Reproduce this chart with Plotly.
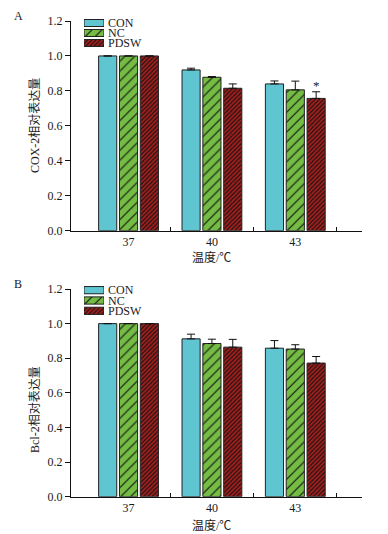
import plotly.graph_objects as go

# ---------------- data ----------------
temperatures = ["37", "40", "43"]
series_names = ["CON", "NC", "PDSW"]

cox2_con = [1.00, 0.920, 0.840]
cox2_nc = [1.00, 0.878, 0.806]
cox2_pdsw = [1.00, 0.815, 0.757]
cox2_con_err = [0.0, 0.010, 0.017]
cox2_nc_err = [0.0, 0.004, 0.050]
cox2_pdsw_err = [0.0, 0.025, 0.038]

bcl2_con = [1.00, 0.912, 0.858]
bcl2_nc = [1.00, 0.885, 0.853]
bcl2_pdsw = [1.00, 0.864, 0.772]
bcl2_con_err = [0.0, 0.027, 0.044]
bcl2_nc_err = [0.0, 0.025, 0.025]
bcl2_pdsw_err = [0.0, 0.045, 0.038]

y_tick_values = [0.0, 0.2, 0.4, 0.6, 0.8, 1.0, 1.2]

# ---------------- styles ----------------
PAGE_W, PAGE_H = 388, 534
OFF = 8  # default page body margin
W, H = PAGE_W - OFF, PAGE_H - OFF
FONT = "Liberation Serif, Times New Roman, Noto Sans CJK SC, serif"
TXT = "#1a1a1a"
colors = {"CON": "#5EC5D1", "NC": "#74BC44", "PDSW": "#A21F1D"}
patterns = {
    "CON": dict(shape="", fgcolor="black", bgcolor=colors["CON"]),
    "NC": dict(shape="/", fgcolor="#111111", bgcolor=colors["NC"], size=7, solidity=0.16),
    "PDSW": dict(shape="/", fgcolor="#111111", bgcolor=colors["PDSW"], size=3, solidity=0.35),
}


def px_x(p):
    return (p - OFF) / W


def px_y(p):
    return 1 - (p - OFF) / H


x_pos = list(range(len(temperatures)))

fig = go.Figure()

panels = [
    dict(vals=[cox2_con, cox2_nc, cox2_pdsw], errs=[cox2_con_err, cox2_nc_err, cox2_pdsw_err],
         xa="x", ya="y"),
    dict(vals=[bcl2_con, bcl2_nc, bcl2_pdsw], errs=[bcl2_con_err, bcl2_nc_err, bcl2_pdsw_err],
         xa="x2", ya="y2"),
]

for pnl in panels:
    for name, v, e in zip(series_names, pnl["vals"], pnl["errs"]):
        fig.add_trace(go.Bar(
            x=x_pos, y=v, name=name, showlegend=False,
            xaxis=pnl["xa"], yaxis=pnl["ya"],
            marker=dict(color=colors[name], line=dict(color="#222222", width=1),
                        pattern=patterns[name]),
            error_y=dict(type="data", symmetric=False, array=e, arrayminus=[0] * len(e),
                         color="#111111", thickness=1, width=4),
        ))

# legend swatches (as horizontal bars on small helper axes)
legend_boxes = [(84, 104, 18, 48, "x3", "y3"), (84, 104, 285, 316, "x4", "y4")]
for (x0, x1, y0, y1, xa, ya) in legend_boxes:
    for name in series_names:
        fig.add_trace(go.Bar(
            x=[1], y=[name], orientation="h", width=0.7, offset=-0.35,
            xaxis=xa, yaxis=ya, showlegend=False, hoverinfo="skip",
            marker=dict(color=colors[name], line=dict(color="#222222", width=1),
                        pattern=patterns[name]),
        ))

xrange = [-0.69, 2.8]
common_x = dict(range=xrange, tickmode="array", tickvals=x_pos, ticktext=temperatures,
                ticks="", showline=True, linecolor="#111111", linewidth=1,
                showgrid=False, zeroline=False, fixedrange=True, automargin=False,
                tickfont=dict(family=FONT, size=12, color=TXT),
                minor=dict(tickmode="array", tickvals=[0.5, 1.5, 2.5], ticks="inside",
                           ticklen=4, tickcolor="#111111", showgrid=False))
common_y = dict(range=[0, 1.2], tickmode="array", tickvals=y_tick_values,
                ticktext=[f"{t:.1f}" for t in y_tick_values],
                ticks="outside", ticklen=5, tickcolor="#111111",
                showline=True, linecolor="#111111", linewidth=1,
                showgrid=False, zeroline=False, automargin=False,
                tickfont=dict(family=FONT, size=12, color=TXT))

xd = [px_x(71), px_x(362)]
fig.update_layout(
    xaxis=dict(domain=xd, anchor="y", **common_x),
    yaxis=dict(domain=[px_y(230.7), px_y(21)], anchor="x", **common_y),
    xaxis2=dict(domain=xd, anchor="y2", **common_x),
    yaxis2=dict(domain=[px_y(496.7), px_y(289)], anchor="x2", **common_y),
)

for (x0, x1, y0, y1, xa, ya) in legend_boxes:
    n = xa[1:]
    fig.layout["xaxis" + n] = dict(domain=[px_x(x0), px_x(x1)], anchor=ya, range=[0, 1],
                                   visible=False, fixedrange=True)
    fig.layout["yaxis" + n] = dict(domain=[px_y(y1), px_y(y0)], anchor=xa, side="right",
                                   categoryorder="array", categoryarray=series_names[::-1],
                                   range=[-0.5, 2.5],
                                   tickmode="array", tickvals=series_names, ticktext=series_names,
                                   showline=False, showgrid=False, zeroline=False, ticks="",
                                   ticklabelstandoff=3, automargin=False,
                                   tickfont=dict(family=FONT, size=12, color=TXT))


def ann(text, x, y, **kw):
    d = dict(text=text, x=px_x(x), y=px_y(y), xref="paper", yref="paper",
             xanchor="center", yanchor="middle", showarrow=False,
             font=dict(family=FONT, size=12, color=TXT))
    d.update(kw)
    return d


annotations = [
    ann("A", 18, 16),
    ann("B", 18, 284),
    ann("COX-2相对表达量", 35, 126, textangle=-90),
    ann("Bcl-2相对表达量", 35, 410, textangle=-90),
    ann("温度/℃", 211, 258),
    ann("温度/℃", 211, 525),
    dict(text="*", x=x_pos[2] + 0.25, y=cox2_pdsw[2] + cox2_pdsw_err[2], xref="x", yref="y",
         xanchor="center", yanchor="bottom", yshift=-3, showarrow=False,
         font=dict(family=FONT, size=13, color=TXT)),
]

fig.update_layout(
    width=W, height=H, template="none",
    margin=dict(l=0, r=0, t=0, b=0),
    paper_bgcolor="white", plot_bgcolor="white",
    barmode="group", bargap=0.25, bargroupgap=0.13,
    showlegend=False,
    annotations=annotations,
    font=dict(family=FONT, size=12, color=TXT),
)

fig.write_html("out.html")
